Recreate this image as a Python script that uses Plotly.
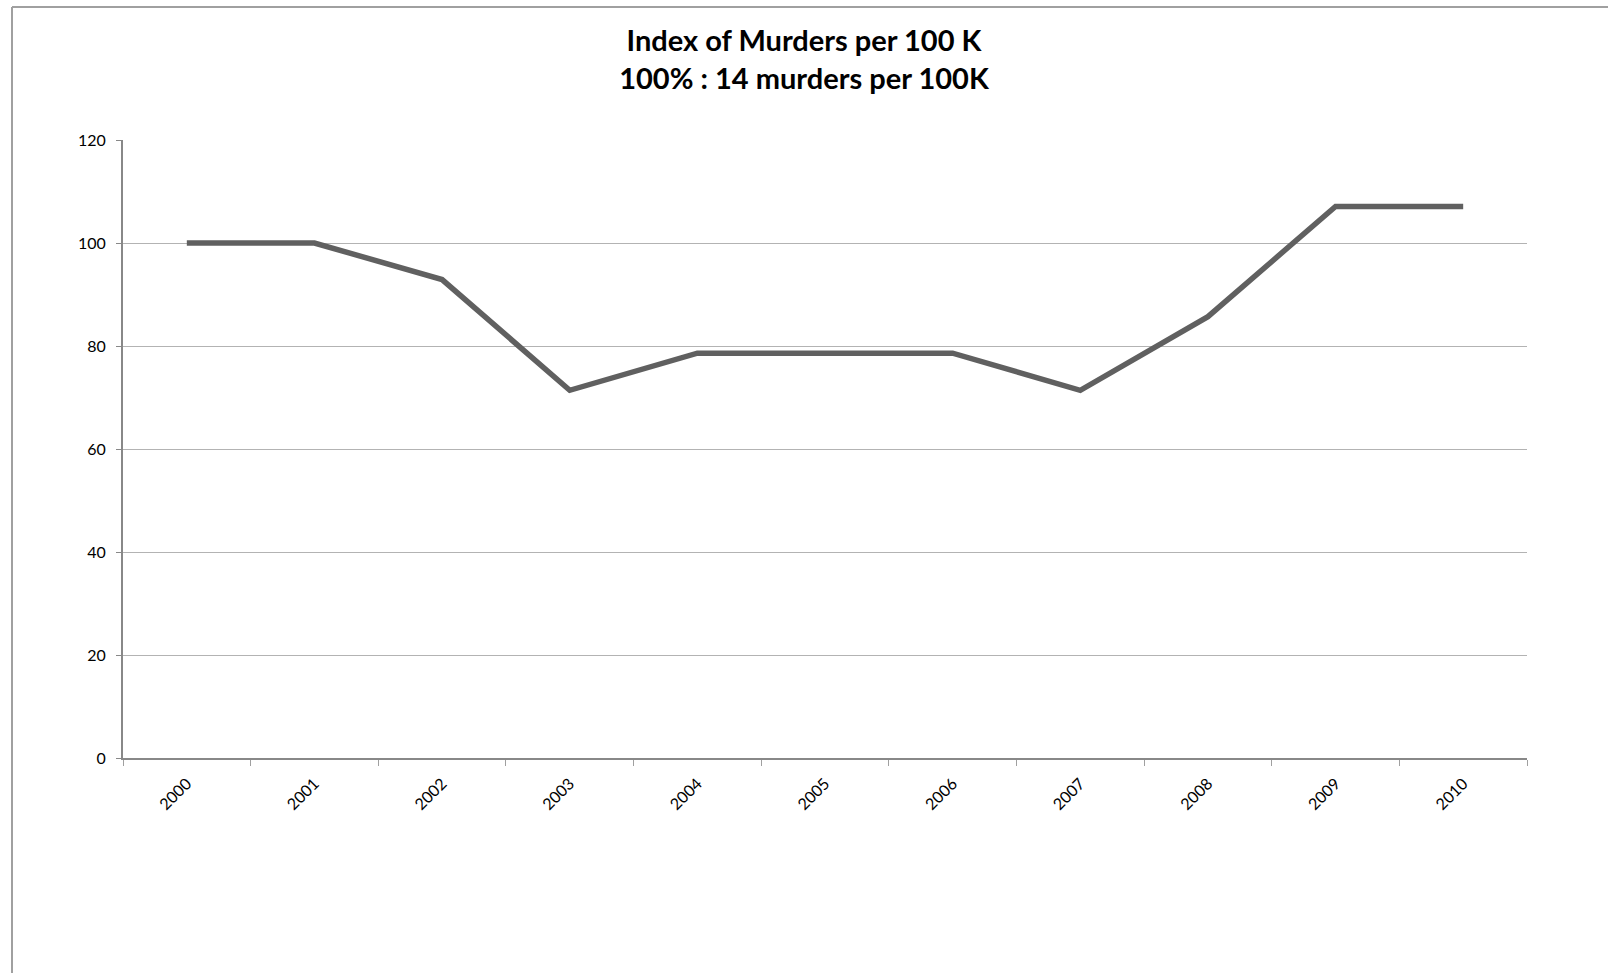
import plotly.graph_objects as go

years = ["2000", "2001", "2002", "2003", "2004", "2005", "2006", "2007", "2008", "2009", "2010"]
index_values = [100, 100, 92.9, 71.4, 78.6, 78.6, 78.6, 71.4, 85.7, 107.1, 107.1]
y_ticks = [0, 20, 40, 60, 80, 100, 120]

W, H = 1608, 973
L, R, T, B = 123, 1527, 140, 758

def px_x(p):
    return (p - L) / (R - L)

def px_y(p):
    return (B - p) / (B - T)

fig = go.Figure()
fig.add_trace(go.Scatter(
    x=years, y=index_values, mode="lines",
    line=dict(color="#606060", width=5.5),
    hoverinfo="x+y", showlegend=False,
))

fig.update_layout(
    width=W, height=H,
    margin=dict(l=L, r=W - R, t=T, b=H - B),
    paper_bgcolor="white", plot_bgcolor="white",
    font=dict(family="Lato, Carlito, Calibri, sans-serif", color="#000000"),
    title=dict(
        text="<b>Index of Murders per 100 K<br>100% : 14 murders per 100K</b>",
        x=0.5, xanchor="center", xref="container",
        y=1 - 51 / H, yanchor="middle", yref="container",
        font=dict(size=29, family="Lato, Carlito, Calibri, sans-serif", color="#000000"),
    ),
    xaxis=dict(
        type="category", range=[-0.5, 10.5],
        showline=True, linecolor="#888888", linewidth=2,
        ticks="outside", tickson="boundaries", ticklen=6, tickcolor="#a0a0a0", tickwidth=1,
        tickangle=-45, tickfont=dict(size=16), ticklabelstandoff=8,
        showgrid=False, zeroline=False,
    ),
    yaxis=dict(
        range=[0, 120], tickvals=y_ticks,
        showline=True, linecolor="#888888", linewidth=2,
        ticks="outside", ticklen=5, tickcolor="#888888", tickwidth=1,
        tickfont=dict(size=16), ticklabelstandoff=7,
        showgrid=True, gridcolor="#b3b3b3", gridwidth=1,
        zeroline=False,
    ),
    shapes=[
        dict(type="line", xref="paper", yref="paper",
             x0=px_x(12), x1=px_x(12), y0=px_y(7), y1=px_y(H + 5),
             line=dict(color="#a0a0a0", width=2)),
        dict(type="line", xref="paper", yref="paper",
             x0=px_x(12), x1=px_x(W + 5), y0=px_y(7), y1=px_y(7),
             line=dict(color="#a0a0a0", width=2)),
    ],
)

fig.write_html("out.html")
